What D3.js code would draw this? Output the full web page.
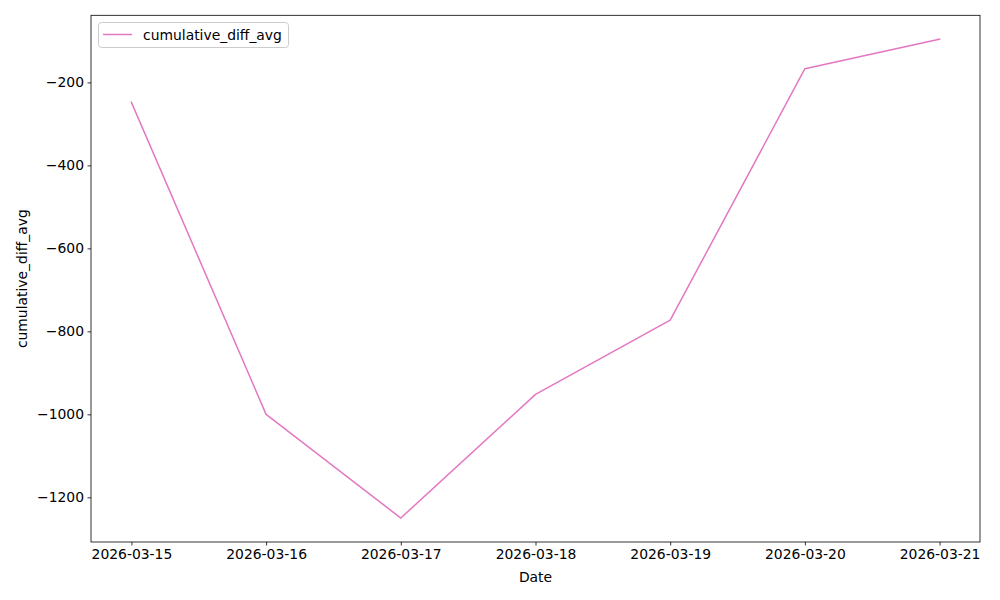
<!DOCTYPE html>
<html><head><meta charset="utf-8">
<script src="https://cdn.jsdelivr.net/npm/d3@7"></script>
<style>body{margin:0;background:#fff}svg{display:block}text{font-family:"DejaVu Sans",sans-serif}</style>
</head><body><svg id="c" width="1000" height="600"></svg>
<script>
const dates = ["2026-03-15","2026-03-16","2026-03-17","2026-03-18","2026-03-19","2026-03-20","2026-03-21"];
const values = [-248, -1000, -1250, -952, -773, -167, -96];
const yTicks = [-1200, -1000, -800, -600, -400, -200];
const seriesName = "cumulative_diff_avg";

const svg = d3.select("#c");
const L = 91, R = 980, T = 15.3, B = 542;
const parse = d3.utcParse("%Y-%m-%d");
const xs = dates.map(parse);
const day = 86400000;
const x0 = xs[0].getTime(), x1 = xs[xs.length-1].getTime();
const xm = (x1 - x0) * 0.05;
const x = d3.scaleUtc().domain([new Date(x0 - xm), new Date(x1 + xm)]).range([L, R]);
const ymin = d3.min(values), ymax = d3.max(values), ym = (ymax - ymin) * 0.05;
const y = d3.scaleLinear().domain([ymin - ym, ymax + ym]).range([B, T]);

const line = d3.line().x((d,i)=>x(xs[i])).y(d=>y(d));
svg.append("path").datum(values).attr("d", line).attr("fill","none")
  .attr("stroke","#e377c2").attr("stroke-width",1.5).attr("stroke-linejoin","round").attr("stroke-linecap","square");

const xAxis = d3.axisBottom(x).tickValues(xs).tickFormat(d3.utcFormat("%Y-%m-%d")).tickSize(3.5).tickPadding(3.5);
const gx = svg.append("g").attr("transform",`translate(0,${B})`).call(xAxis);
const yAxis = d3.axisLeft(y).tickValues(yTicks).tickFormat(d=>String(d).replace("-","\u2212")).tickSize(3.5).tickPadding(3.5);
const gy = svg.append("g").attr("transform",`translate(${L},0)`).call(yAxis);
[gx,gy].forEach(g=>{
  g.select(".domain").remove();
  g.selectAll(".tick line").attr("stroke","#000").attr("stroke-width",0.8);
  g.selectAll(".tick text").attr("fill","#000").attr("font-size","13.9px").attr("font-family","DejaVu Sans");
});

svg.append("rect").attr("x",L).attr("y",T).attr("width",R-L).attr("height",B-T)
  .attr("fill","none").attr("stroke","#000").attr("stroke-width",0.8);

svg.append("text").attr("x",(L+R)/2).attr("y",582).attr("text-anchor","middle")
  .attr("font-size","13.9px").text("Date");
svg.append("text").attr("transform",`translate(27,${(T+B)/2}) rotate(-90)`).attr("text-anchor","middle")
  .attr("font-size","13.9px").text(seriesName);

// legend
const lg = svg.append("g");
lg.append("rect").attr("x",98.5).attr("y",22.5).attr("width",190).attr("height",25).attr("rx",3)
  .attr("fill","#fff").attr("fill-opacity",0.8).attr("stroke","#ccc").attr("stroke-width",1);
lg.append("line").attr("x1",103).attr("x2",132).attr("y1",34.5).attr("y2",34.5)
  .attr("stroke","#e377c2").attr("stroke-width",1.5);
lg.append("text").attr("x",143).attr("y",39.5).attr("font-size","13.9px").text(seriesName);
</script></body></html>
